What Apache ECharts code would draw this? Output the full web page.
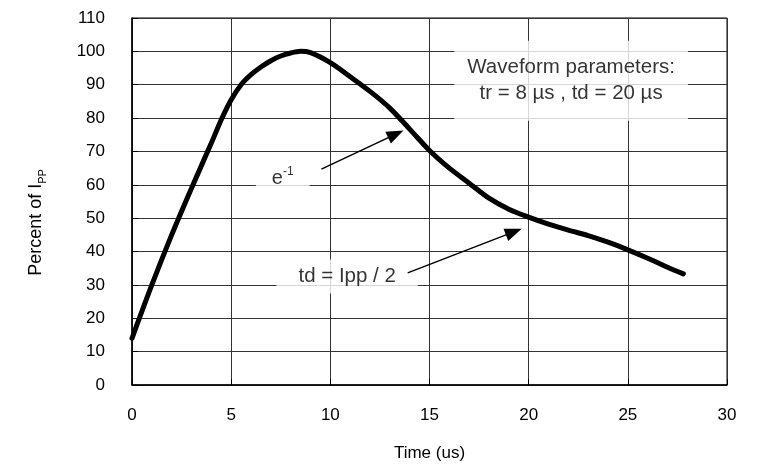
<!DOCTYPE html>
<html>
<head>
  <meta charset="UTF-8" />
  <title>Pulse waveform</title>
  <script src="https://cdn.jsdelivr.net/npm/echarts@6/dist/echarts.min.js"></script>
  <style>
    html, body { margin: 0; padding: 0; background: #fff; }
    #chart { width: 758px; height: 472px; }
  </style>
</head>
<body>
  <div id="chart"></div>
  <script>
    // waveform
    const timeUs = [0, 1, 2, 3, 4, 4.5, 5, 5.5, 6, 6.5, 7, 7.5, 8, 8.5, 9, 10, 11, 12, 13, 14, 15, 16, 17, 18, 19, 20, 21, 22, 23, 24, 25, 26, 27, 27.8];
    const percentIpp = [14, 30, 45, 59, 72.5, 79.5, 85.5, 90, 93, 95.3, 97.2, 98.6, 99.5, 100, 99.6, 96.6, 92.4, 88, 83, 76.7, 70.3, 65, 60.5, 56, 52.7, 50.3, 48.2, 46.4, 44.8, 42.8, 40.5, 38, 35.3, 33.3];

    // annotation text and where it sits (data units)
    const noteTexts = ['{e|e}{sup|-1}', '{t|td = Ipp / 2}', '{t|Waveform parameters:}\n{t|tr = 8 µs , td = 20 µs}'];
    const notePos = [[7.6, 62], [10.85, 32.5], [22.14, 91.2]];
    const notePad = [[6, 16, 6, 16], [4, 22, 4, 22], [14, 13, 14, 13]];

    // arrows: [from, to] in data units
    const arrows = [
      [[9.55, 64.7], [13.3, 75.2]],
      [[13.9, 33.6], [19.25, 45.9]]
    ];

    const font = 'Liberation Sans, Arial, sans-serif';
    const chart = echarts.init(document.getElementById('chart'));

    const option = {
      animation: false,
      textStyle: { fontFamily: font, color: '#000' },
      grid: {
        left: 132, right: 31, top: 18, bottom: 87,
        show: true, borderColor: '#000', borderWidth: 1
      },
      xAxis: {
        type: 'value', min: 0, max: 30, interval: 5,
        name: 'Time (us)', nameLocation: 'middle', nameGap: 60,
        nameTextStyle: { fontSize: 17, color: '#000', fontFamily: font },
        axisLine: { lineStyle: { color: '#000', width: 1.5 } },
        axisTick: { inside: true, length: 6, lineStyle: { color: '#000' } },
        axisLabel: { fontSize: 17, color: '#000', margin: 22, fontFamily: font },
        splitLine: { lineStyle: { color: '#333', width: 1 } }
      },
      yAxis: {
        type: 'value', min: 0, max: 110, interval: 10,
        name: '{a|Percent of I}{b|PP}', nameLocation: 'middle', nameGap: 84, nameRotate: 90,
        nameTextStyle: {
          fontFamily: font, color: '#000',
          padding: [0, 42, 0, 0],
          rich: {
            a: { fontSize: 18, fontFamily: font, color: '#000' },
            b: { fontSize: 11, fontFamily: font, color: '#000', padding: [12, 0, 0, 0] }
          }
        },
        axisLine: { lineStyle: { color: '#000', width: 1.5 } },
        axisTick: { inside: true, length: 6, lineStyle: { color: '#000' } },
        axisLabel: { fontSize: 17, color: '#000', margin: 27, fontFamily: font },
        splitLine: { lineStyle: { color: '#333', width: 1 } }
      },
      series: [
        {
          type: 'line',
          data: timeUs.map((t, i) => [t, percentIpp[i]]),
          smooth: 0.3,
          showSymbol: false,
          lineStyle: { color: '#000', width: 5, cap: 'round', join: 'round' },
          z: 3,
          markLine: {
            silent: true,
            symbol: ['none', 'triangle'],
            symbolSize: [13, 17],
            label: { show: false },
            lineStyle: { color: '#000', width: 1.5, type: 'solid' },
            data: arrows.map(a => [{ coord: a[0] }, { coord: a[1] }])
          }
        },
        {
          type: 'scatter',
          symbolSize: 0,
          z: 4,
          data: notePos.map((p, i) => ({
            value: p,
            label: {
              show: true,
              position: 'inside',
              formatter: noteTexts[i],
              backgroundColor: '#fff',
              padding: notePad[i],
              lineHeight: 26,
              rich: {
                t: { fontSize: 20.5, fontFamily: font, color: '#000', lineHeight: 26 },
                e: { fontSize: 20, fontFamily: font, color: '#000' },
                sup: { fontSize: 12, fontFamily: font, color: '#000', padding: [0, 0, 13, 0] }
              }
            }
          }))
        }
      ]
    };

    chart.setOption(option);
  </script>
</body>
</html>
